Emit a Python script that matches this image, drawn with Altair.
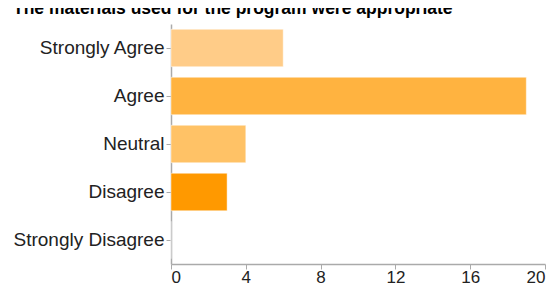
import altair as alt
import pandas as pd

categories = ["Strongly Agree", "Agree", "Neutral", "Disagree", "Strongly Disagree"]
counts = [6, 19, 4, 3, 0]
colors = ["#FFCC88", "#FFB340", "#FFC266", "#FF9900", "#FFE0B0"]
x_ticks = [0, 4, 8, 12, 16, 20]

df = pd.DataFrame({"category": categories, "count": counts})

chart = alt.Chart(df).mark_bar(stroke="white", strokeOpacity=0.45, strokeWidth=1).encode(
    y=alt.Y("category:N", sort=categories,
            scale=alt.Scale(paddingInner=0.22, paddingOuter=0.11),
            axis=alt.Axis(title=None, labelFont="Liberation Sans", labelFontSize=19,
                          labelColor="#222222", domainColor="#aaaaaa", tickColor="#aaaaaa",
                          tickSize=5, labelPadding=2, domainWidth=1.5)),
    x=alt.X("count:Q", scale=alt.Scale(domain=[0, 20], nice=False),
            axis=alt.Axis(title=None, values=x_ticks, labelFont="Liberation Sans", labelFontSize=17,
                          labelColor="#222222", domainColor="#aaaaaa", tickColor="#aaaaaa",
                          tickSize=5, labelPadding=0, grid=False, domainWidth=1.5)),
    color=alt.Color("category:N", scale=alt.Scale(domain=categories, range=colors), legend=None),
).properties(
    width=374,
    height=240,
    title=alt.TitleParams("The materials used for the program were appropriate",
                          anchor="start", frame="bounds", font="Liberation Sans",
                          fontSize=17.5, fontWeight="bold", color="#000000", offset=7),
    autosize=alt.AutoSizeParams(type="none"),
    padding={"left": 163, "top": 16, "right": 6, "bottom": 25},
).configure_view(stroke=None)

chart.save("out.html", embed_options={"renderer": "svg", "actions": False})
